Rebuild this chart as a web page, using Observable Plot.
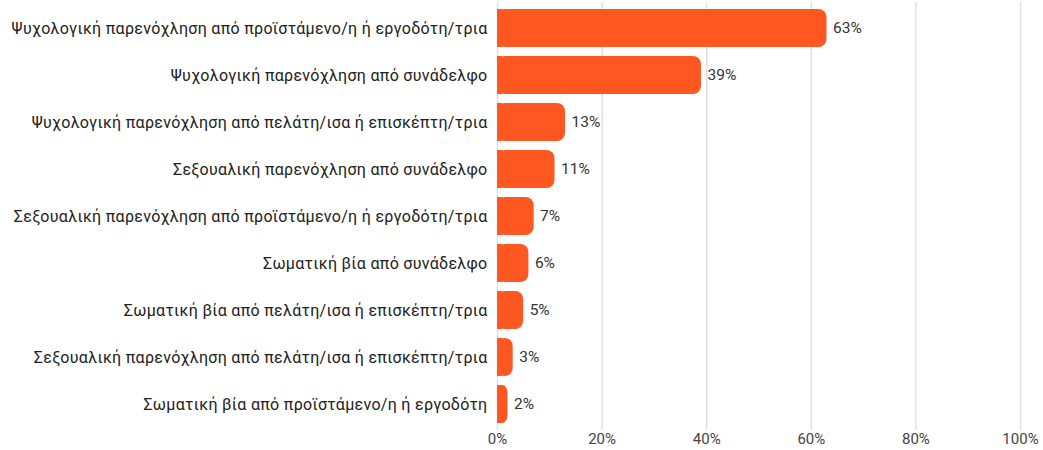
<!DOCTYPE html>
<html>
<head>
<meta charset="utf-8">
<script src="https://cdn.jsdelivr.net/npm/d3@7"></script>
<script src="https://cdn.jsdelivr.net/npm/@observablehq/plot@0.6"></script>
<style>
  html, body { margin: 0; padding: 0; background: #fff; }
  #chart svg { display: block; }
  #chart g[aria-label="y-axis tick label"] text { letter-spacing: 0.3px; }
</style>
</head>
<body>
<div id="chart"></div>
<script>
const categories = [
  "Ψυχολογική παρενόχληση από προϊστάμενο/η ή εργοδότη/τρια",
  "Ψυχολογική παρενόχληση από συνάδελφο",
  "Ψυχολογική παρενόχληση από πελάτη/ισα ή επισκέπτη/τρια",
  "Σεξουαλική παρενόχληση από συνάδελφο",
  "Σεξουαλική παρενόχληση από προϊστάμενο/η ή εργοδότη/τρια",
  "Σωματική βία από συνάδελφο",
  "Σωματική βία από πελάτη/ισα ή επισκέπτη/τρια",
  "Σεξουαλική παρενόχληση από πελάτη/ισα ή επισκέπτη/τρια",
  "Σωματική βία από προϊστάμενο/η ή εργοδότη"
];
const values = [63, 39, 13, 11, 7, 6, 5, 3, 2];
const xTicks = [0, 20, 40, 60, 80, 100];

const data = categories.map((c, i) => ({ category: c, value: values[i] }));
const color = "#FF5722";

const chart = Plot.plot({
  width: 1043,
  height: 450,
  marginLeft: 497,
  marginRight: 23,
  marginTop: 2,
  marginBottom: 20,
  style: { fontFamily: "Roboto, sans-serif", fontSize: "15px", color: "#333", background: "#fff" },
  x: { domain: [0, 100], ticks: xTicks, tickFormat: d => d + "%", label: null },
  y: { domain: categories, paddingInner: 0.2, paddingOuter: 0.1, label: null },
  marks: [
    Plot.gridX(xTicks, { stroke: "#e0e0e0", strokeOpacity: 1, strokeWidth: 1.5 }),
    Plot.axisX({ ticks: xTicks, tickFormat: d => d + "%", tickSize: 0, tickPadding: 3, fontSize: 15, fill: "#444", label: null }),
    Plot.axisY({ tickSize: 0, tickPadding: 10, fontSize: 16, fill: "#222", label: null }),
    Plot.barX(data, { x1: 0, x2: "value", y: "category", fill: color, rx: 8 }),
    Plot.barX(data, { x1: 0, x2: d => Math.min(d.value, 1), y: "category", fill: color }),
    Plot.text(data, { x: "value", y: "category", text: d => d.value + "%", textAnchor: "start", dx: 6, fontSize: 15.5, fill: "#333" })
  ]
});
document.getElementById("chart").appendChild(chart);
</script>
</body>
</html>
